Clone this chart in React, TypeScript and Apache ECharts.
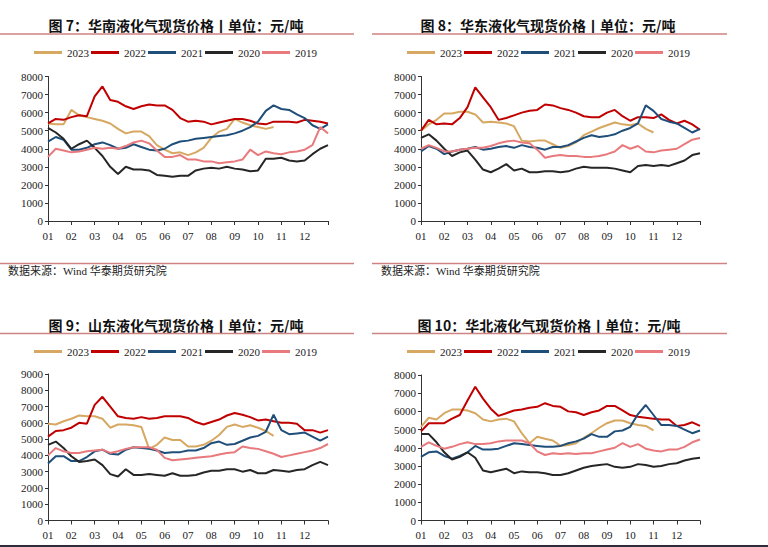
import React, { useEffect, useRef } from "react";
import * as echarts from "echarts";

const years = ["2023", "2022", "2021", "2020", "2019"];
const colors = ["#D6A862", "#C00000", "#1F4E79", "#262626", "#E8797C"];
const monthLabels = ["01", "02", "03", "04", "05", "06", "07", "08", "09", "10", "11", "12"];
const STEP = 1 / 3; // months between points

const titles = [
  "图 7：华南液化气现货价格丨单位：元/吨",
  "图 8：华东液化气现货价格丨单位：元/吨",
  "图 9：山东液化气现货价格丨单位：元/吨",
  "图 10：华北液化气现货价格丨单位：元/吨",
];
const sourceText = "数据来源：Wind 华泰期货研究院";
const yMaxes = [8000, 8000, 9000, 8000];

// 华南
const hn2023 = [5400,5350,5350,6150,5850,5750,5650,5550,5400,5100,4850,4950,4950,4700,4200,3950,3750,3800,3650,3800,4050,4600,4950,5100,5650,5450,5300,5200,5100,5200];
const hn2022 = [5400,5650,5600,5750,5850,5800,6900,7450,6700,6600,6350,6200,6350,6450,6400,6400,6150,5700,5500,5550,5500,5350,5450,5550,5650,5650,5550,5400,5350,5500,5500,5500,5450,5600,5550,5500,5400];
const hn2021 = [4400,4650,4500,3950,3950,4050,4250,4350,4200,4000,4050,4250,4100,3950,3900,4000,4250,4400,4450,4550,4600,4650,4700,4750,4850,5000,5200,5500,6100,6400,6200,6150,5900,5700,5300,5100,5350];
const hn2020 = [5150,4900,4550,4000,4250,4450,4050,3600,3000,2600,3000,2850,2850,2800,2550,2500,2450,2500,2500,2800,2900,2950,2900,3000,2900,2850,2750,2800,3450,3450,3500,3350,3300,3350,3700,4000,4200];
const hn2019 = [3550,4000,3900,3800,3850,3950,4050,4000,4050,4000,4150,4350,4450,4300,3900,3550,3550,3650,3400,3400,3300,3300,3200,3250,3300,3400,3950,3650,3850,3750,3700,3800,3850,3950,4200,5200,4850];

// 华东
const hd2023 = [5000,5350,5600,5950,5950,6050,6050,5900,5450,5500,5450,5400,5250,4450,4400,4450,4450,4250,4050,4150,4350,4750,4950,5150,5300,5450,5350,5300,5400,5100,4900];
const hd2022 = [5000,5600,5350,5400,5350,5700,6300,7400,6850,6300,5600,5700,5850,6000,6100,6150,6450,6400,6250,6150,6000,5800,5750,5750,6000,6150,5800,5550,5750,5750,5700,5900,5600,5400,5550,5350,5050];
const hd2021 = [3850,4150,4000,3700,3850,3950,4000,4100,3950,4000,4100,4150,4050,4200,4100,4050,3950,4100,4100,4200,4400,4600,4750,4650,4700,4800,5000,5150,5400,6400,6100,5650,5500,5400,5150,4900,5100];
const hd2020 = [4600,4800,4450,4000,3600,3800,3900,3400,2850,2700,2900,3150,2800,2900,2700,2700,2750,2750,2700,2750,2900,3000,2950,2950,2950,2900,2800,2700,3050,3100,3050,3100,3050,3200,3350,3650,3750];
const hd2019 = [4000,4200,4050,3850,3850,3950,4000,4050,4050,4150,4300,4400,4450,4350,4300,3950,3500,3600,3650,3600,3600,3550,3550,3600,3700,3850,4200,4000,4150,3850,3800,3900,3950,4000,4250,4500,4600];

// 山东
const sd2023 = [5950,5900,6100,6250,6450,6400,6400,6250,5700,5900,5900,5850,5750,4400,4650,5100,4950,4950,4550,4550,4650,4900,5250,5750,5900,5750,5850,5700,5500,5200];
const sd2022 = [5150,5500,5550,5700,6000,5950,7100,7600,7000,6400,6300,6250,6350,6250,6300,6400,6400,6400,6300,6050,5900,6050,6200,6450,6600,6500,6350,6150,6200,6100,6000,6000,5950,5550,5550,5400,5550];
const sd2021 = [3500,3950,3950,3650,3650,3900,4250,4350,4100,4050,4350,4500,4450,4400,4300,4150,4200,4200,4300,4300,4450,4750,4850,4650,4700,4900,5100,5200,5450,6500,5550,5300,5350,5400,5150,4900,5150];
const sd2020 = [4650,4850,4450,3950,3600,3650,3750,3400,2850,2700,3150,2800,2800,2850,2800,2750,2900,2750,2750,2800,2950,3050,3050,3150,3150,3000,3100,2900,2900,3100,3050,3000,3100,3150,3400,3600,3400];
const sd2019 = [4000,4450,4250,4150,4150,4250,4300,4350,4150,4250,4400,4500,4500,4500,4350,3850,3700,3750,3800,3850,3900,3950,4050,4150,4200,4550,4450,4400,4250,4100,3900,4000,4100,4200,4300,4450,4700];

// 华北
const hb2023 = [5150,5650,5550,5900,6100,6100,6050,5900,5550,5450,5550,5600,5450,4800,4250,4600,4500,4400,4100,4150,4250,4550,4800,5100,5350,5500,5500,5350,5250,5200,4950];
const hb2022 = [4900,5350,5350,5350,5600,5800,6600,7350,6700,6150,5750,5900,6050,6100,6200,6250,6450,6300,6250,6000,5950,5800,5950,6050,6300,6300,6050,5800,5700,5650,5600,5550,5550,5200,5250,5400,5200];
const hb2021 = [3500,3750,3800,3550,3400,3550,3750,4100,3900,3900,3950,4100,4250,4200,4150,4100,4050,4050,4100,4250,4350,4500,4750,4600,4600,4900,4950,5150,5850,6350,5800,5250,5250,5200,5000,4800,4950];
const hb2020 = [4750,4750,4300,3750,3350,3500,3750,3450,2750,2650,2750,2850,2600,2700,2650,2650,2600,2500,2500,2600,2750,2900,3000,3050,3100,2950,2900,2950,3100,3050,2950,3000,3100,3150,3300,3400,3450];
const hb2019 = [4050,4300,4100,3950,4050,4200,4300,4200,4200,4250,4350,4400,4400,4400,4250,3800,3600,3700,3650,3700,3650,3700,3700,3800,3900,4000,4250,4050,4200,3950,3850,3800,3900,3900,4050,4300,4450];

const panelData = [
  [hn2023, hn2022, hn2021, hn2020, hn2019],
  [hd2023, hd2022, hd2021, hd2020, hd2019],
  [sd2023, sd2022, sd2021, sd2020, sd2019],
  [hb2023, hb2022, hb2021, hb2020, hb2019],
];

// layout (pixels)
const grids = [
  { left: 48, top: 76.5, width: 280, height: 144.5 },
  { left: 421, top: 76.5, width: 279, height: 144.5 },
  { left: 48, top: 374, width: 280, height: 146.5 },
  { left: 421, top: 375, width: 279, height: 145.5 },
];
const titlePos = [
  { x: 176, y: 25 },
  { x: 548, y: 25 },
  { x: 176, y: 325 },
  { x: 549, y: 325 },
];
const legendPos = [
  { left: 34, top: 47 },
  { left: 407, top: 47 },
  { left: 34, top: 346 },
  { left: 407, top: 346 },
];

const SERIF = "Liberation Serif";
const CJK = "Noto Sans CJK SC";
const sepColor = "#CF8282";

export default function App() {
  const ref = useRef<HTMLDivElement>(null);

  useEffect(() => {
    if (!ref.current) return;
    const chart = echarts.init(ref.current, undefined, { renderer: "svg" });

    const xAxis = grids.map((_, g) => ({
      type: "value",
      gridIndex: g,
      min: 0,
      max: 12,
      interval: 1,
      axisLine: { show: true, lineStyle: { color: "#333", width: 1 } },
      axisTick: { show: true, length: 4, lineStyle: { color: "#333" } },
      splitLine: { show: false },
      axisLabel: {
        margin: 9,
        fontSize: 11,
        fontFamily: SERIF,
        color: "#222",
        formatter: (v: number) => (v < 12 ? monthLabels[Math.round(v)] : ""),
      },
    }));

    const yAxis = grids.map((_, g) => ({
      type: "value",
      gridIndex: g,
      min: 0,
      max: yMaxes[g],
      interval: 1000,
      axisLine: { show: true, lineStyle: { color: "#333", width: 1 } },
      axisTick: { show: true, length: 3, lineStyle: { color: "#333" } },
      splitLine: { show: false },
      axisLabel: {
        margin: 5,
        fontSize: 11,
        fontFamily: SERIF,
        color: "#222",
        formatter: (v: number) => String(Math.round(v)),
      },
    }));

    const series: any[] = [];
    panelData.forEach((arrs, g) => {
      arrs.forEach((arr, k) => {
        series.push({
          type: "line",
          name: years[k],
          xAxisIndex: g,
          yAxisIndex: g,
          data: arr.map((v, i) => [i * STEP, v]),
          showSymbol: false,
          symbol: "none",
          lineStyle: { color: colors[k], width: 2 },
          itemStyle: { color: colors[k] },
          z: 2 + k,
        });
      });
    });

    const legend = legendPos.map((p) => ({
      left: p.left,
      top: p.top,
      padding: 0,
      data: years,
      icon: "rect",
      itemWidth: 28,
      itemHeight: 3,
      itemGap: 2,
      selectedMode: false,
      textStyle: { fontSize: 11, fontFamily: SERIF, color: "#222" },
    }));

    const graphic: any[] = [];
    titles.forEach((t, g) => {
      graphic.push({
        type: "text",
        x: titlePos[g].x,
        y: titlePos[g].y,
        style: {
          text: t,
          fill: "#111",
          font: `bold 14px "${CJK}"`,
          align: "center",
          verticalAlign: "middle",
          textAlign: "center",
          textVerticalAlign: "middle",
        },
      });
    });
    const hLines = [
      [0, 354, 34],
      [372, 727, 34],
      [0, 354, 263.5],
      [372, 727, 263.5],
      [0, 354, 333.5],
      [372, 727, 333.5],
    ];
    hLines.forEach(([x1, x2, y]) => {
      graphic.push({
        type: "line",
        shape: { x1, y1: y, x2, y2: y },
        style: { stroke: sepColor, lineWidth: 1.5 },
      });
    });
    graphic.push({
      type: "line",
      shape: { x1: 0, y1: 546, x2: 768, y2: 546 },
      style: { stroke: "#2E2E3A", lineWidth: 2 },
    });
    [8, 381].forEach((x) => {
      graphic.push({
        type: "text",
        x,
        y: 271,
        style: {
          text: sourceText,
          fill: "#222",
          font: `11px "${SERIF}", "${CJK}"`,
          align: "left",
          verticalAlign: "middle",
          textAlign: "left",
          textVerticalAlign: "middle",
        },
      });
    });

    chart.setOption({
      animation: false,
      backgroundColor: "#ffffff",
      grid: grids.map((g) => ({ ...g, containLabel: false })),
      xAxis,
      yAxis,
      legend,
      series,
      graphic,
    });

    return () => chart.dispose();
  }, []);

  return (
    <div
      ref={ref}
      style={{ position: "absolute", left: 0, top: 0, width: 768, height: 547 }}
    />
  );
}
